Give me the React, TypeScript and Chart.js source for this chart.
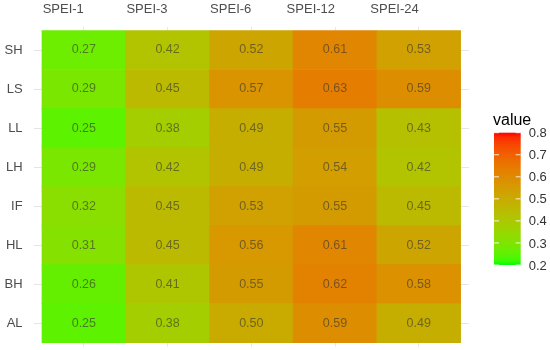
import React, { useEffect, useRef } from "react";
import { Chart, registerables } from "chart.js";

Chart.register(...registerables);

const columns = ["SPEI-1", "SPEI-3", "SPEI-6", "SPEI-12", "SPEI-24"];
const rows = ["SH", "LS", "LL", "LH", "IF", "HL", "BH", "AL"];

const SH = [0.27, 0.42, 0.52, 0.61, 0.53];
const LS = [0.29, 0.45, 0.57, 0.63, 0.59];
const LL = [0.25, 0.38, 0.49, 0.55, 0.43];
const LH = [0.29, 0.42, 0.49, 0.54, 0.42];
const IF = [0.32, 0.45, 0.53, 0.55, 0.45];
const HL = [0.31, 0.45, 0.56, 0.61, 0.52];
const BH = [0.26, 0.41, 0.55, 0.62, 0.58];
const AL = [0.25, 0.38, 0.5, 0.59, 0.49];

const values = [SH, LS, LL, LH, IF, HL, BH, AL];

const legendTicks = [0.2, 0.3, 0.4, 0.5, 0.6, 0.7, 0.8];
const colorMin = 0.2;
const colorMax = 0.8;
const lowColor = [0, 255, 0];
const highColor = [255, 0, 0];

const FONT = "'Liberation Sans', Arial, sans-serif";

// ---- Lab colour interpolation (like ggplot's gradient) ----
function toLin(c: number) {
  c /= 255;
  return c <= 0.04045 ? c / 12.92 : Math.pow((c + 0.055) / 1.055, 2.4);
}
function fromLin(c: number) {
  const v = c <= 0.0031308 ? 12.92 * c : 1.055 * Math.pow(c, 1 / 2.4) - 0.055;
  return Math.round(Math.max(0, Math.min(1, v)) * 255);
}
const Xn = 0.95047, Yn = 1.0, Zn = 1.08883;
function f(t: number) {
  return t > 216 / 24389 ? Math.cbrt(t) : (t * 24389 / 27 + 16) / 116;
}
function finv(t: number) {
  return t * t * t > 216 / 24389 ? t * t * t : (116 * t - 16) * 27 / 24389;
}
function rgbToLab(rgb: number[]) {
  const r = toLin(rgb[0]), g = toLin(rgb[1]), b = toLin(rgb[2]);
  const X = 0.4124 * r + 0.3576 * g + 0.1805 * b;
  const Y = 0.2126 * r + 0.7152 * g + 0.0722 * b;
  const Z = 0.0193 * r + 0.1192 * g + 0.9505 * b;
  const fx = f(X / Xn), fy = f(Y / Yn), fz = f(Z / Zn);
  return [116 * fy - 16, 500 * (fx - fy), 200 * (fy - fz)];
}
function labToRgb(lab: number[]) {
  const fy = (lab[0] + 16) / 116;
  const fx = fy + lab[1] / 500;
  const fz = fy - lab[2] / 200;
  const X = Xn * finv(fx), Y = Yn * finv(fy), Z = Zn * finv(fz);
  const r = 3.2406 * X - 1.5372 * Y - 0.4986 * Z;
  const g = -0.9689 * X + 1.8758 * Y + 0.0415 * Z;
  const b = 0.0557 * X - 0.204 * Y + 1.057 * Z;
  return [fromLin(r), fromLin(g), fromLin(b)];
}
const labLow = rgbToLab(lowColor);
const labHigh = rgbToLab(highColor);
function colorAt(v: number) {
  const t = Math.max(0, Math.min(1, (v - colorMin) / (colorMax - colorMin)));
  const lab = [0, 1, 2].map((i) => labLow[i] + (labHigh[i] - labLow[i]) * t);
  const c = labToRgb(lab);
  return `rgb(${c[0]},${c[1]},${c[2]})`;
}

const nRows = rows.length;

const valueLabelPlugin = {
  id: "valueLabels",
  afterDatasetsDraw(chart: any) {
    const ctx = chart.ctx;
    ctx.save();
    ctx.font = `12.5px ${FONT}`;
    ctx.fillStyle = "rgba(51,51,51,0.6)";
    ctx.textAlign = "center";
    ctx.textBaseline = "middle";
    chart.data.datasets.forEach((ds: any, di: number) => {
      const meta = chart.getDatasetMeta(di);
      const rowVals = values[nRows - 1 - di];
      meta.data.forEach((el: any, j: number) => {
        const cy = (el.y + el.base) / 2;
        ctx.fillText(rowVals[j].toFixed(2), el.x, cy);
      });
    });
    ctx.restore();
  },
};

const colorbarPlugin = {
  id: "colorbar",
  afterDraw(chart: any) {
    const ctx = chart.ctx;
    const area = chart.chartArea;
    const x0 = area.right + 25;
    const w = 26.7;
    const yTop = 132.7;
    const yBot = 265;
    ctx.save();
    ctx.font = `16px ${FONT}`;
    ctx.fillStyle = "#000";
    ctx.textAlign = "left";
    ctx.textBaseline = "alphabetic";
    ctx.fillText("value", x0 - 1, 125);
    const grad = ctx.createLinearGradient(0, yBot, 0, yTop);
    const steps = 30;
    for (let i = 0; i <= steps; i++) {
      const t = i / steps;
      grad.addColorStop(t, colorAt(colorMin + (colorMax - colorMin) * t));
    }
    ctx.fillStyle = grad;
    ctx.fillRect(x0, yTop, w, yBot - yTop);
    ctx.strokeStyle = "rgba(255,255,255,0.85)";
    ctx.lineWidth = 1;
    ctx.font = `13px ${FONT}`;
    ctx.fillStyle = "#333";
    ctx.textBaseline = "middle";
    legendTicks.forEach((v) => {
      const y = yBot - ((v - colorMin) / (colorMax - colorMin)) * (yBot - yTop);
      ctx.beginPath();
      ctx.moveTo(x0, y);
      ctx.lineTo(x0 + 5, y);
      ctx.moveTo(x0 + w - 5, y);
      ctx.lineTo(x0 + w, y);
      ctx.stroke();
      ctx.fillText(v.toFixed(1), x0 + w + 8, y + 1);
    });
    ctx.restore();
  },
};

export default function App() {
  const ref = useRef<HTMLCanvasElement>(null);
  useEffect(() => {
    document.body.style.margin = "0";
    Chart.defaults.font.family = FONT;
    const datasets = rows
      .slice()
      .reverse()
      .map((name, di) => {
        const rowVals = values[nRows - 1 - di];
        return {
          label: name,
          data: rowVals.map((_, j) => ({ x: j + 0.5, y: 1 })),
          backgroundColor: rowVals.map((v) => colorAt(v)),
          borderWidth: 0,
          barPercentage: 1,
          categoryPercentage: 1,
        };
      });
    const chart = new Chart(ref.current as HTMLCanvasElement, {
      type: "bar",
      data: { datasets: datasets as any },
      options: {
        animation: false,
        responsive: false,
        layout: { padding: { left: 0, right: 81, top: 0, bottom: 3.4 } },
        plugins: { legend: { display: false }, tooltip: { enabled: false } },
        scales: {
          x: {
            type: "linear",
            position: "top",
            stacked: true,
            offset: false,
            min: -0.1,
            max: columns.length + 0.1,
            bounds: "data",
            afterBuildTicks: (scale: any) => {
              scale.ticks = columns.map((_, i) => ({ value: i + 0.5 }));
            },
            afterFit: (scale: any) => {
              scale.height = 26.6;
              scale.paddingLeft = 0;
              scale.paddingRight = 0;
              scale.paddingTop = 0;
              scale.paddingBottom = 0;
            },
            ticks: {
              autoSkip: false,
              maxRotation: 0,
              minRotation: 0,
              align: "end",
              padding: 9,
              color: "#4D4D4D",
              font: { size: 13, family: FONT },
              callback: (v: any) => columns[Math.round(Number(v) - 0.5)] ?? "",
            },
            grid: { color: "#E6E6E6", lineWidth: 1, drawTicks: false, offset: false },
            border: { display: false },
          },
          y: {
            type: "linear",
            stacked: true,
            min: -0.1,
            max: nRows + 0.1,
            bounds: "data",
            afterBuildTicks: (scale: any) => {
              scale.ticks = rows.map((_, i) => ({ value: i + 0.5 }));
            },
            afterFit: (scale: any) => {
              scale.width = 33.6;
              scale.paddingLeft = 0;
              scale.paddingRight = 0;
              scale.paddingTop = 0;
              scale.paddingBottom = 0;
            },
            ticks: {
              autoSkip: false,
              padding: 11,
              color: "#4D4D4D",
              font: { size: 13, family: FONT },
              callback: (v: any) => rows[nRows - 1 - Math.round(Number(v) - 0.5)] ?? "",
            },
            grid: { color: "#E6E6E6", lineWidth: 1, drawTicks: false },
            border: { display: false },
          },
        },
      },
      plugins: [valueLabelPlugin, colorbarPlugin],
    });
    return () => chart.destroy();
  }, []);
  return (
    <div style={{ width: 550, height: 350 }}>
      <canvas ref={ref} width={550} height={350} style={{ display: "block" }} />
    </div>
  );
}
